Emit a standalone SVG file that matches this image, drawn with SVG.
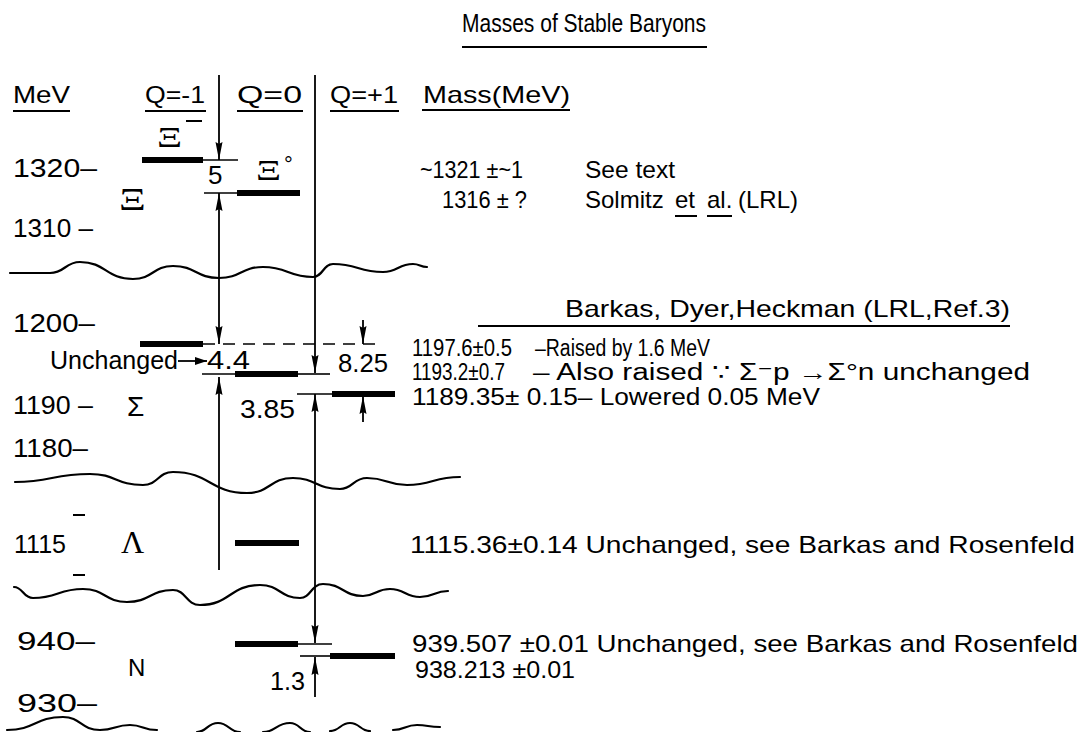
<svg xmlns="http://www.w3.org/2000/svg" width="1086" height="732" viewBox="0 0 1086 732">
<style>
text{font-family:"Liberation Sans","DejaVu Sans",sans-serif;fill:#000;}
.t{font-size:24px;}
.r{font-size:23px;}
.s{font-size:26px;}
.g{font-family:"Liberation Serif","DejaVu Serif",serif;font-size:32px;}
.bar{stroke:#000;stroke-width:6;stroke-linecap:butt;}
.thin{stroke:#000;stroke-width:1.6;fill:none;}
.ul{stroke:#000;stroke-width:2;}
.wave{stroke:#000;stroke-width:2.2;fill:none;stroke-linecap:round;}
.ax{stroke:#000;stroke-width:1.8;fill:none;}
</style>
<defs>
<marker id="ah" viewBox="0 0 18 8" markerWidth="18" markerHeight="8" refX="18" refY="4" orient="auto-start-reverse" markerUnits="userSpaceOnUse">
<path d="M0,0.5 L18,4 L0,7.5 L2,4 z" fill="#000"/>
</marker>
<marker id="ahs" viewBox="0 0 12 8" markerWidth="12" markerHeight="8" refX="12" refY="4" orient="auto" markerUnits="userSpaceOnUse">
<path d="M0,0 L12,4 L0,8 z" fill="#000"/>
</marker>
</defs>
<rect width="1086" height="732" fill="#fff"/>

<g id="title">
<text x="462" y="32" style="font-size:25px" textLength="244" lengthAdjust="spacingAndGlyphs">Masses of Stable Baryons</text>
<line class="ul" x1="462" y1="47" x2="707" y2="47"/>
</g>

<g id="headers">
<text class="t" x="13" y="103" textLength="57" lengthAdjust="spacingAndGlyphs">MeV</text>
<line class="ul" x1="13" y1="111" x2="70" y2="111"/>
<text class="t" x="145" y="103" textLength="60" lengthAdjust="spacingAndGlyphs">Q=-1</text>
<line class="ul" x1="145" y1="111" x2="206" y2="111"/>
<text class="t" x="237" y="103" textLength="65" lengthAdjust="spacingAndGlyphs">Q=0</text>
<line class="ul" x1="237" y1="111" x2="303" y2="111"/>
<text class="t" x="330" y="103" textLength="68" lengthAdjust="spacingAndGlyphs">Q=+1</text>
<line class="ul" x1="330" y1="111" x2="399" y2="111"/>
<text class="t" x="423" y="103" textLength="147" lengthAdjust="spacingAndGlyphs">Mass(MeV)</text>
<line class="ul" x1="422" y1="110" x2="570" y2="110"/>
</g>

<g id="scale">
<text class="s" x="13" y="177" textLength="84" lengthAdjust="spacingAndGlyphs">1320–</text>
<text class="s" x="13" y="237" textLength="80" lengthAdjust="spacingAndGlyphs">1310 –</text>
<text class="s" x="13" y="332" textLength="82" lengthAdjust="spacingAndGlyphs">1200–</text>
<text class="s" x="13" y="414" textLength="80" lengthAdjust="spacingAndGlyphs">1190 –</text>
<text class="s" x="13" y="457" textLength="75" lengthAdjust="spacingAndGlyphs">1180–</text>
<text class="s" x="14" y="553" textLength="52" lengthAdjust="spacingAndGlyphs">1115</text>
<line class="ul" x1="73" y1="515" x2="85" y2="515"/>
<line class="ul" x1="73" y1="575" x2="85" y2="575"/>
<text class="s" x="17" y="650" textLength="78" lengthAdjust="spacingAndGlyphs">940–</text>
<text class="s" x="17" y="712" textLength="80" lengthAdjust="spacingAndGlyphs">930–</text>
</g>

<g id="family-labels">
<text class="g" transform="translate(119,210) scale(1.3,1)">Ξ</text>
<text x="127" y="416" style="font-size:28px">Σ</text>
<text class="g" x="121" y="553">Λ</text>
<text class="t" x="128" y="676">N</text>
</g>

<g id="breaks">
<path class="wave" d="M10,273 C30,273 30,273 50,273 C65,273 65,262 80,262 C106,262 106,279 133,279 C153,279 153,266 173,266 C196,266 196,278 219,278 C241,278 241,267 263,267 C288,267 288,277 313,277 C323,277 323,264 333,264 C358,264 358,272 383,272 C398,272 398,264 413,264 C420,264 420,267 427,267"/>
<path class="wave" d="M15,482 C52,482 52,474 90,474 C116,474 116,485 143,485 C158,485 158,472 173,472 C210,472 210,493 247,493 C270,493 270,478 293,478 C316,478 316,489 340,489 C353,489 353,478 367,478 C387,478 387,485 407,485 C433,485 433,477 460,477"/>
<path class="wave" d="M14,587 C23,587 23,598 33,598 C58,598 58,589 83,589 C105,589 105,602 127,602 C150,602 150,590 173,590 C186,590 186,605 200,605 C230,605 230,585 260,585 C280,585 280,598 300,598 C311,598 311,584 323,584 C343,584 343,596 363,596 C376,596 376,589 390,589 C405,589 405,597 420,597 C434,597 434,591 448,591"/>
<path class="wave" d="M7,730 C35,730 35,717 63,717 C81,717 81,730 100,730 C115,730 115,725 130,725 C143,725 143,730 157,730"/>
<path class="wave" d="M197,732 C207,732 207,723 218,723 C229,723 229,732 240,732"/>
<path class="wave" d="M263,732 C276,732 276,723 290,723 C300,723 300,732 310,732"/>
<path class="wave" d="M330,731 C340,731 340,723 350,723 C360,723 360,731 370,731"/>
<path class="wave" d="M393,730 C405,730 405,725 417,725 C428,725 428,727 440,727"/>
</g>

<g id="xi-minus">
<line class="bar" x1="142" y1="160" x2="203" y2="160"/>
<line class="thin" x1="203" y1="160" x2="238" y2="160"/>
<text class="g" transform="translate(157,147) scale(1.3,1)" style="font-size:30px">Ξ</text>
<line class="ul" x1="186" y1="121" x2="202" y2="121"/>
</g>
<g id="xi-zero">
<line class="bar" x1="237" y1="193" x2="300" y2="193"/>
<line class="thin" x1="204" y1="193" x2="237" y2="193"/>
<text class="g" transform="translate(256,180) scale(1.3,1)" style="font-size:30px">Ξ</text>
<text x="284" y="172" style="font-size:22px">°</text>
</g>
<g id="sigma-minus">
<line class="bar" x1="140" y1="344" x2="203" y2="344"/>
<line class="thin" x1="203" y1="344" x2="383" y2="344" stroke-dasharray="12 8"/>
</g>
<g id="sigma-zero">
<line class="bar" x1="235" y1="374" x2="298" y2="374"/>
<line class="thin" x1="202" y1="374" x2="235" y2="374"/>
<line class="thin" x1="298" y1="374" x2="330" y2="374"/>
</g>
<g id="sigma-plus">
<line class="bar" x1="332" y1="394" x2="395" y2="394"/>
<line class="thin" x1="297" y1="394" x2="332" y2="394"/>
</g>
<g id="lambda">
<line class="bar" x1="235" y1="543" x2="299" y2="543"/>
</g>
<g id="neutron">
<line class="bar" x1="235" y1="644" x2="298" y2="644"/>
<line class="thin" x1="298" y1="644" x2="332" y2="644"/>
</g>
<g id="proton">
<line class="bar" x1="330" y1="656" x2="395" y2="656"/>
<line class="thin" x1="300" y1="656" x2="330" y2="656"/>
</g>

<g id="connectors">
<line class="ax" x1="219" y1="75" x2="219" y2="160" marker-end="url(#ah)"/>
<line class="ax" x1="219" y1="193" x2="219" y2="344" marker-start="url(#ah)" marker-end="url(#ah)"/>
<line class="ax" x1="219" y1="570" x2="219" y2="377" marker-end="url(#ah)"/>
<line class="ax" x1="315" y1="75" x2="315" y2="373" marker-end="url(#ah)"/>
<line class="ax" x1="315" y1="394" x2="315" y2="643" marker-start="url(#ah)" marker-end="url(#ah)"/>
<line class="ax" x1="315" y1="697" x2="315" y2="657" marker-end="url(#ah)"/>
<line class="ax" x1="363" y1="320" x2="363" y2="344" marker-end="url(#ah)"/>
<line class="ax" x1="363" y1="422" x2="363" y2="396" marker-end="url(#ah)"/>
<line class="ax" x1="178" y1="361" x2="207" y2="361" marker-end="url(#ahs)"/>
</g>

<g id="differences">
<text class="s" x="208" y="184">5</text>
<text class="s" x="50" y="369" textLength="128" lengthAdjust="spacingAndGlyphs">Unchanged</text>
<text class="s" x="207" y="369" textLength="43" lengthAdjust="spacingAndGlyphs">4.4</text>
<text class="s" x="338" y="372" textLength="50" lengthAdjust="spacingAndGlyphs">8.25</text>
<text class="s" x="240" y="418" textLength="55" lengthAdjust="spacingAndGlyphs">3.85</text>
<text class="s" x="270" y="690" textLength="35" lengthAdjust="spacingAndGlyphs">1.3</text>
</g>

<g id="masses">
<text class="t" x="420" y="178" textLength="103" lengthAdjust="spacingAndGlyphs">~1321 ±~1</text>
<text class="t" x="585" y="178" textLength="90" lengthAdjust="spacingAndGlyphs">See text</text>
<text class="t" x="442" y="208" textLength="85" lengthAdjust="spacingAndGlyphs">1316 ± ?</text>
<text class="t" y="208"><tspan x="585">Solmitz</tspan><tspan x="675">et</tspan><tspan x="707">al.</tspan><tspan x="738">(LRL)</tspan></text>
<line class="ul" x1="675" y1="216" x2="697" y2="216"/>
<line class="ul" x1="707" y1="216" x2="732" y2="216"/>
<text class="t" x="565" y="317" textLength="445" lengthAdjust="spacingAndGlyphs">Barkas, Dyer,Heckman (LRL,Ref.3)</text>
<line class="ul" x1="478" y1="326" x2="1010" y2="326"/>
<text class="r" x="412" y="356" textLength="100" lengthAdjust="spacingAndGlyphs">1197.6±0.5</text>
<text class="r" x="535" y="356" textLength="175" lengthAdjust="spacingAndGlyphs">–Raised by 1.6 MeV</text>
<text class="r" x="412" y="380" textLength="93" lengthAdjust="spacingAndGlyphs">1193.2±0.7</text>
<text class="r" x="533" y="380" textLength="497" lengthAdjust="spacingAndGlyphs">– Also raised ∵ Σ⁻p →Σ°n unchanged</text>
<text class="r" x="412" y="405" textLength="408" lengthAdjust="spacingAndGlyphs">1189.35± 0.15– Lowered 0.05 MeV</text>
<text class="t" x="410" y="553" textLength="665" lengthAdjust="spacingAndGlyphs">1115.36±0.14  Unchanged, see Barkas and Rosenfeld</text>
<text class="t" x="412" y="652" textLength="666" lengthAdjust="spacingAndGlyphs">939.507 ±0.01 Unchanged, see Barkas and Rosenfeld</text>
<text class="r" x="415" y="678" textLength="160" lengthAdjust="spacingAndGlyphs">938.213 ±0.01</text>
</g>
</svg>
